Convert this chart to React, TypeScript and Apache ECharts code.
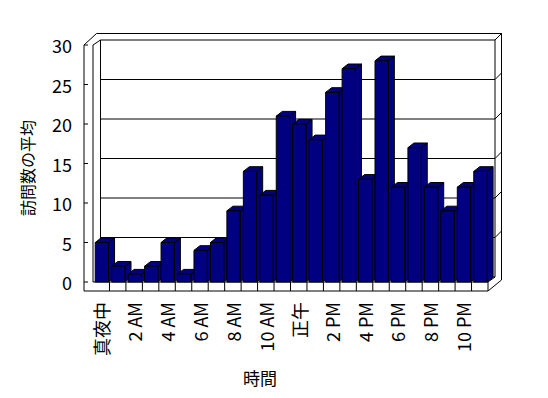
import React, { useEffect, useRef } from "react";
import * as echarts from "echarts";

const hours = [
  "真夜中", "1 AM", "2 AM", "3 AM", "4 AM", "5 AM", "6 AM", "7 AM", "8 AM", "9 AM", "10 AM", "11 AM",
  "正午", "1 PM", "2 PM", "3 PM", "4 PM", "5 PM", "6 PM", "7 PM", "8 PM", "9 PM", "10 PM", "11 PM",
];
const visits = [5, 2, 1, 2, 5, 1, 4, 5, 9, 14, 11, 21, 20, 18, 24, 27, 13, 28, 12, 17, 12, 9, 12, 14];
const yTicks = [0, 5, 10, 15, 20, 25, 30];
const xTitle = "時間";
const yTitle = "訪問数の平均";

const FONT = "'Noto Sans CJK JP', 'Noto Sans', sans-serif";
const NAVY = "#000080";

export default function App() {
  const ref = useRef<HTMLDivElement>(null);
  useEffect(() => {
    document.body.style.margin = "0";
    const chart = echarts.init(ref.current!, null, { renderer: "svg" });
    const line = (x1: number, y1: number, x2: number, y2: number) => ({
      type: "line",
      shape: { x1, y1, x2, y2 },
      style: { stroke: "#000", lineWidth: 1 },
      silent: true,
    });
    const frameItem = (params: any, api: any) => {
      const cs = params.coordSys;
      const L = cs.x, R = cs.x + cs.width, T = cs.y, B = cs.y + cs.height;
      const bdxL = 7.5, bdxR = 7, bdy = -5;
      const ch: any[] = [];
      yTicks.forEach((v) => {
        const yf = api.coord([0, v])[1];
        const y = yf + bdy;
        ch.push(line(L + bdxL, y, R + bdxR, y));
        if (v > 0) ch.push(line(R + bdxR, y, R + bdxR + 6.5, y - 6.5));
        ch.push(line(L - 9, yf, L - 5, yf));
      });
      ch.push(line(L + bdxL, T + bdy, L + bdxL, B + bdy));
      ch.push(line(R + bdxR, T + bdy, R + bdxR, B + bdy));
      ch.push(line(R + bdxR, B + bdy, R, B));
      ch.push(line(L + 3.5, T - 11.5, R + bdxR + 6.5, T - 11.5));
      ch.push(line(R + bdxR, T + bdy, R + bdxR + 6.5, T - 11.5));
      ch.push(line(R + bdxR + 6.5, T - 11.5, R + bdxR + 6.5, B - 2));
      ch.push(line(R, B + 9, R + bdxR + 6.5, B - 2));
      ch.push(line(L - 9, T, L - 9, B + 9));
      ch.push(line(L, T, L, B));
      ch.push(line(L - 9, T, L + 3.5, T - 11.5));
      ch.push(line(L, T, L + bdxL, T + bdy));
      ch.push(line(L, B, R, B));
      ch.push(line(L - 9, B + 9, R, B + 9));
      ch.push(line(R, B, R, B + 9));
      const bw = cs.width / hours.length;
      for (let i = 1; i < hours.length; i++) {
        const x = L + bw * i;
        ch.push(line(x, B, x, B + 9));
      }
      return { type: "group", children: ch };
    };
    const barItem = (params: any, api: any) => {
      const i = api.value(0);
      const v = api.value(1);
      const top = api.coord([i, v]);
      const base = api.coord([i, 0]);
      const bw = api.size([1, 0])[0];
      const xl = top[0] - bw / 2 + bw * 0.135;
      const w = bw * 0.81;
      const dx = 6, dy = -4.7;
      const yt = top[1], yb = base[1];
      const st = { fill: NAVY, stroke: "#000", lineWidth: 1 };
      return {
        type: "group",
        children: [
          {
            type: "polygon",
            shape: { points: [[xl + w, yt], [xl + w + dx, yt + dy], [xl + w + dx, yb + dy], [xl + w, yb]] },
            style: st,
          },
          {
            type: "polygon",
            shape: { points: [[xl, yt], [xl + w, yt], [xl + w + dx, yt + dy], [xl + dx, yt + dy]] },
            style: st,
          },
          { type: "rect", shape: { x: xl, y: yt, width: w, height: yb - yt }, style: st },
        ],
      };
    };
    chart.setOption({
      animation: false,
      backgroundColor: "#fff",
      textStyle: { fontFamily: FONT },
      grid: { left: 93, right: 60, top: 45, bottom: 116, containLabel: false },
      xAxis: {
        type: "category",
        data: hours,
        axisLine: { show: false },
        axisTick: { show: false },
        axisLabel: {
          interval: 1,
          rotate: 90,
          margin: 20,
          fontSize: 18,
          color: "#000",
          fontFamily: FONT,
        },
        splitLine: { show: false },
      },
      yAxis: {
        type: "value",
        min: 0,
        max: 30,
        interval: 5,
        offset: 9,
        axisLine: { show: false },
        axisTick: { show: false },
        axisLabel: { margin: 12, fontSize: 18, color: "#000", fontFamily: FONT },
        splitLine: { show: false },
      },
      graphic: [
        {
          type: "text",
          x: 260,
          y: 377,
          style: { text: xTitle, fontSize: 17, fill: "#000", fontFamily: FONT, textAlign: "center", textVerticalAlign: "middle" },
        },
        {
          type: "text",
          x: 27,
          y: 168,
          rotation: Math.PI / 2,
          style: { text: yTitle, fontSize: 16, fill: "#000", fontFamily: FONT, textAlign: "center", textVerticalAlign: "middle" },
        },
      ],
      series: [
        { type: "custom", renderItem: frameItem, data: [[0, 0]], silent: true, z: 1 },
        {
          type: "custom",
          renderItem: barItem,
          data: visits.map((v, i) => [i, v]),
          encode: { x: 0, y: 1 },
          z: 2,
        },
      ],
    });
    return () => chart.dispose();
  }, []);
  return <div ref={ref} style={{ width: 548, height: 398 }} />;
}
